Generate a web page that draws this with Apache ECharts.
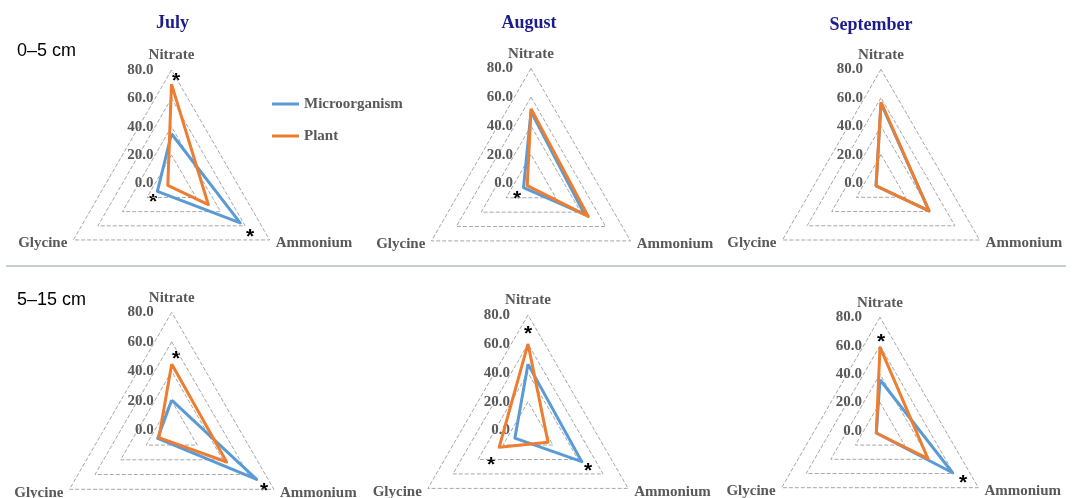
<!DOCTYPE html>
<html>
<head>
<meta charset="utf-8">
<script src="https://cdn.jsdelivr.net/npm/echarts@6/dist/echarts.min.js"></script>
<style>
html,body{margin:0;padding:0;background:#fff;}
#c{width:1072px;height:498px;}
</style>
</head>
<body>
<div id="c"></div>
<script>
// ---- data ----
var indicators = ['Nitrate', 'Glycine', 'Ammonium'];
var months = ['July', 'August', 'September'];
var depths = ['0\u20135 cm', '5\u201315 cm'];
var seriesNames = ['Microorganism', 'Plant'];
var tickValues = [0, 20, 40, 60, 80];

// values per panel: [Nitrate, Glycine, Ammonium]
var micro_0_5_Jul = [35, 11.5, 56];
var plant_0_5_Jul = [70, 3, 30];
var micro_0_5_Aug = [50, 6, 43];
var plant_0_5_Aug = [52, 3, 46];
var micro_0_5_Sep = [56, 4, 39];
var plant_0_5_Sep = [57, 4, 39];
var micro_5_15_Jul = [20.5, 11, 66.5];
var plant_5_15_Jul = [45, 10, 43];
var micro_5_15_Aug = [46, 10.5, 43];
var plant_5_15_Aug = [60, 23, 16];
var micro_5_15_Sep = [36, 3, 59];
var plant_5_15_Sep = [59, 3, 39];

// ---- layout (positions only) ----
var panels = [
  {c: [171.5, 183.3], r: 113.3, micro: micro_0_5_Jul, plant: plant_0_5_Jul},
  {c: [531, 183.4], r: 115, micro: micro_0_5_Aug, plant: plant_0_5_Aug},
  {c: [881, 183.1], r: 113.8, micro: micro_0_5_Sep, plant: plant_0_5_Sep},
  {c: [171.7, 430.3], r: 118, micro: micro_5_15_Jul, plant: plant_5_15_Jul},
  {c: [528, 430.6], r: 115.6, micro: micro_5_15_Aug, plant: plant_5_15_Aug},
  {c: [880, 430.9], r: 113.6, micro: micro_5_15_Sep, plant: plant_5_15_Sep}
];
var titlePos = [[167.5, 9], [524, 9], [866, 11]];
var depthPos = [[17, 42], [17, 291]];
var stars = [[176, 76], [153, 197], [250, 232], [517, 194],
             [176, 354], [264, 486], [528, 329], [491, 460], [588, 466],
             [881, 337], [963, 478]];

var BLUE = '#5B9BD5', ORANGE = '#ED7D31';
var SERIF = '"Liberation Serif", "Times New Roman", serif';
var LBL = '#595959';

var radars = [], series = [], grids = [], xAxes = [], yAxes = [];
panels.forEach(function (p, i) {
  radars.push({
    center: p.c, radius: p.r, startAngle: 90, shape: 'polygon', splitNumber: 4,
    indicator: indicators.map(function (n) { return {name: n, min: 0, max: 80}; }),
    nameGap: 7,
    axisName: {color: LBL, fontFamily: SERIF, fontWeight: 'bold', fontSize: 15},
    splitLine: {lineStyle: {type: 'dashed', color: '#a6a6a6', width: 1}},
    splitArea: {show: false},
    axisLine: {show: false},
    axisTick: {show: false},
    axisLabel: {show: false}
  });
  series.push({
    type: 'radar', radarIndex: i, symbol: 'none', silent: true,
    data: [
      {name: seriesNames[0], value: p.micro, itemStyle: {color: BLUE}, lineStyle: {color: BLUE, width: 3}},
      {name: seriesNames[1], value: p.plant, itemStyle: {color: ORANGE}, lineStyle: {color: ORANGE, width: 3}}
    ]
  });
  grids.push({left: p.c[0], width: 1, top: p.c[1] - p.r, height: p.r, containLabel: false});
  xAxes.push({type: 'value', gridIndex: i, show: false});
  yAxes.push({
    type: 'value', gridIndex: i, min: tickValues[0], max: tickValues[tickValues.length - 1],
    interval: tickValues[1] - tickValues[0],
    axisLine: {show: false}, axisTick: {show: false}, splitLine: {show: false},
    axisLabel: {
      margin: 18, color: LBL, fontFamily: SERIF, fontWeight: 'bold', fontSize: 15,
      formatter: function (v) { return v.toFixed(1); }
    }
  });
});

var titles = months.map(function (m, i) {
  return {
    text: m, left: titlePos[i][0], top: titlePos[i][1], textAlign: 'center',
    textStyle: {color: '#1c1c8a', fontFamily: SERIF, fontWeight: 'bold', fontSize: 18}
  };
});

var graphics = [];
depths.forEach(function (d, i) {
  graphics.push({type: 'text', left: depthPos[i][0], top: depthPos[i][1],
    style: {text: d, fill: '#000', font: '18px "Liberation Sans", Arial, sans-serif'}});
});
graphics.push({type: 'line', shape: {x1: 6, y1: 266, x2: 1066, y2: 266},
  style: {stroke: '#b4bcc6', lineWidth: 1.5}});
stars.forEach(function (s) {
  graphics.push({type: 'text', x: s[0], y: s[1] + 5,
    style: {text: '*', fill: '#000', font: 'bold 21px "Liberation Sans", Arial, sans-serif',
      textAlign: 'center', textVerticalAlign: 'middle'}});
});

var chart = echarts.init(document.getElementById('c'), null, {renderer: 'canvas'});
chart.setOption({
  animation: false,
  backgroundColor: '#fff',
  title: titles,
  legend: {
    data: seriesNames, orient: 'vertical', left: 267, top: 91,
    icon: 'rect', itemWidth: 27, itemHeight: 3, itemGap: 16,
    textStyle: {color: LBL, fontFamily: SERIF, fontWeight: 'bold', fontSize: 15, lineHeight: 16},
    selectedMode: false
  },
  radar: radars,
  grid: grids,
  xAxis: xAxes,
  yAxis: yAxes,
  series: series,
  graphic: graphics
});
</script>
</body>
</html>
